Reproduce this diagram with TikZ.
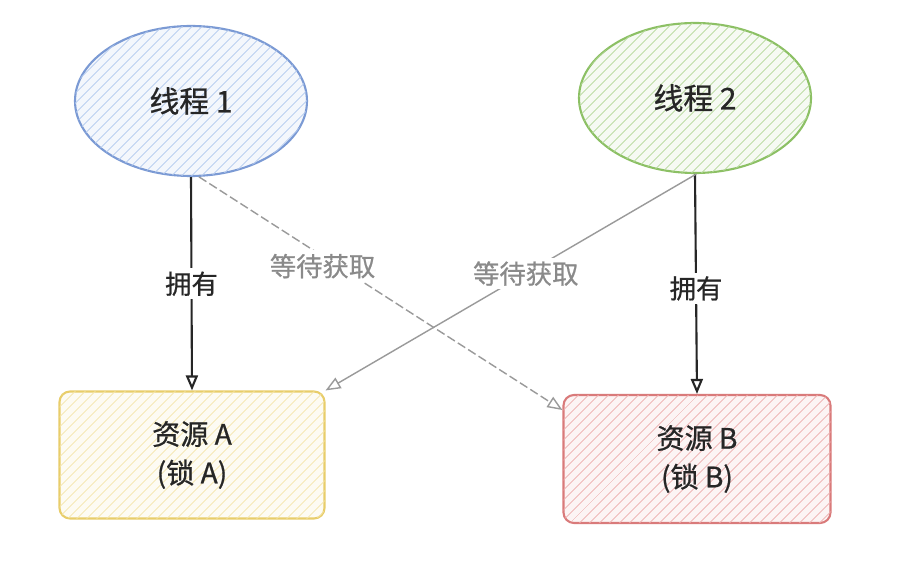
\documentclass[tikz,border=0pt]{standalone}
\usepackage{fontspec}
\setmainfont{Noto Sans CJK SC}[FakeBold=0.7]
\usetikzlibrary{positioning, arrows.meta, shapes.geometric, patterns.meta}
\definecolor{tBlue}{HTML}{7B9AD4}
\definecolor{tBlueH}{HTML}{B4CBEF}
\definecolor{tGreen}{HTML}{8CC064}
\definecolor{tGreenH}{HTML}{B6D99C}
\definecolor{rYellow}{HTML}{E8CD6A}
\definecolor{rYellowH}{HTML}{F4E6AE}
\definecolor{rRed}{HTML}{D97A7A}
\definecolor{rRedH}{HTML}{EDB0B0}
\definecolor{wGray}{HTML}{9A9A9A}
\definecolor{txtGray}{HTML}{8A8A8A}

\begin{document}
\begin{tikzpicture}[
  every node/.style={font=\fontsize{15pt}{18pt}\selectfont, text=black!85},
  thr/.style={ellipse, line width=1.2pt, minimum width=4.64cm, minimum height=3cm,
              font=\fontsize{17pt}{20pt}\selectfont},
  res/.style={rounded corners=6pt, line width=1.2pt, minimum width=5.3cm,
              minimum height=2.54cm, align=center,
              font=\fontsize{16pt}{22pt}\selectfont},
  own/.style={black!85, line width=1.2pt, -{Triangle[open, length=3mm, width=2.4mm]}},
  wait/.style={wGray, line width=0.8pt, -{Triangle[open, length=3mm, width=2.4mm]}},
  lbl/.style={fill=white, inner sep=2pt},
]
  % Canvas
  \useasboundingbox[fill=white] (0,0) rectangle (18.38,11.54);

  % Threads
  \node[thr, draw=tBlue, fill=tBlue!8,
        postaction={pattern={Lines[angle=45, distance=4pt, line width=0.5pt]}, pattern color=tBlueH}]
        (thr1) at (3.82,9.52) {线程 1};
  \node[thr, draw=tGreen, fill=tGreen!8,
        postaction={pattern={Lines[angle=45, distance=4pt, line width=0.5pt]}, pattern color=tGreenH}]
        (thr2) at (13.9,9.58) {线程 2};

  % Resources
  \node[res, draw=rYellow, fill=rYellow!8,
        postaction={pattern={Lines[angle=45, distance=4pt, line width=0.5pt]}, pattern color=rYellowH}]
        (resA) at (3.84,2.44) {资源 A\\(锁 A)};
  \node[res, draw=rRed, fill=rRed!8, minimum width=5.34cm, minimum height=2.56cm,
        postaction={pattern={Lines[angle=45, distance=4pt, line width=0.5pt]}, pattern color=rRedH}]
        (resB) at (13.94,2.36) {资源 B\\(锁 B)};

  % Owned locks
  \draw[own] (thr1.south) -- node[lbl, pos=0.5] (own1) {拥有} (resA.north);
  \draw[own] (thr2.south) -- node[lbl, pos=0.52] (own2) {拥有} (resB.north);

  % Waiting for the other lock
  \draw[wait, dash pattern=on 5pt off 2pt] (thr1.-84) --
    node[lbl, text=txtGray, pos=0.34, yshift=-0.2cm] (wait1) {等待获取} (resB.160);
  \draw[wait] (thr2.-89) --
    node[lbl, text=txtGray, pos=0.46] (wait2) {等待获取} (resA.north east);
\end{tikzpicture}
\end{document}
